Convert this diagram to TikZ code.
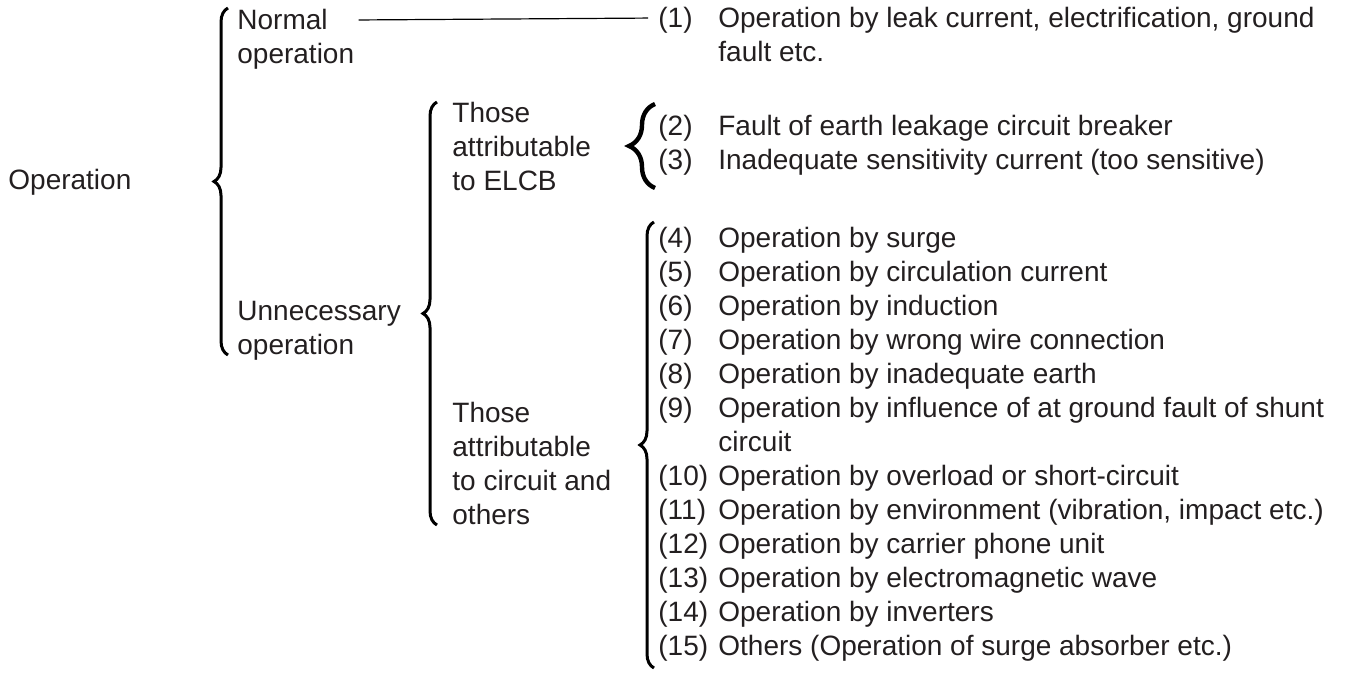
\documentclass[tikz,border=0pt]{standalone}
\usepackage{fontspec}
\setmainfont{Liberation Sans}
\usepackage{tikz}
\usetikzlibrary{decorations.pathreplacing}
\definecolor{ink}{HTML}{231F20}
\newcommand{\itm}[1]{\makebox[30pt][l]{(#1)}}

\begin{document}
\begin{tikzpicture}[x=0.5pt,y=-0.5pt,
        every node/.style={anchor=north west,inner sep=0pt,yshift=5.5pt,text=ink,align=left,font=\fontsize{14}{17}\selectfont},
        brc/.style={decorate,decoration={brace,amplitude=#1},line width=1.5pt},
        link/.style={line width=0.6pt,shorten <=2pt,shorten >=5pt}]
        \useasboundingbox (0,0) rectangle (1345,674);
        \node (op) at (8,180) {Operation};
        \node (normal) at (237,20) {Normal\\operation};
        \node (unnec) at (237,312) {Unnecessary\\operation};
        \node (elcb) at (452,113) {Those\\attributable\\to ELCB};
        \node (circ) at (452,413) {Those\\attributable\\to circuit and\\others};
        \node (it1) at (658,18) {\itm{1}Operation by leak current, electrification, ground\\\hspace*{30pt}fault etc.};
        \node (it2) at (658,126) {\itm{2}Fault of earth leakage circuit breaker};
        \node (it3) at (658,160) {\itm{3}Inadequate sensitivity current (too sensitive)};
        \node (it4) at (658,238) {\itm{4}Operation by surge};
        \node (it5) at (658,272) {\itm{5}Operation by circulation current};
        \node (it6) at (658,306) {\itm{6}Operation by induction};
        \node (it7) at (658,340) {\itm{7}Operation by wrong wire connection};
        \node (it8) at (658,374) {\itm{8}Operation by inadequate earth};
        \node (it9) at (658,408) {\itm{9}Operation by influence of at ground fault of shunt\\\hspace*{30pt}circuit};
        \node (it10) at (658,476) {\itm{10}Operation by overload or short-circuit};
        \node (it11) at (658,510) {\itm{11}Operation by environment (vibration, impact etc.)};
        \node (it12) at (658,544) {\itm{12}Operation by carrier phone unit};
        \node (it13) at (658,578) {\itm{13}Operation by electromagnetic wave};
        \node (it14) at (658,612) {\itm{14}Operation by inverters};
        \node (it15) at (658,646) {\itm{15}Others (Operation of surge absorber etc.)};
        \draw[link] ([yshift=-5.5pt]normal.north east) -- ([yshift=-5.5pt]it1.north west);
        \draw[brc=7pt] (228,355) -- (228,8);
        \draw[brc=7pt] (437,525) -- (437,102);
        \draw[brc=13pt,line width=2.2pt] (655,188) -- (655,104);
        \draw[brc=7pt] (654,668) -- (654,222);
    \end{tikzpicture}
\end{document}
